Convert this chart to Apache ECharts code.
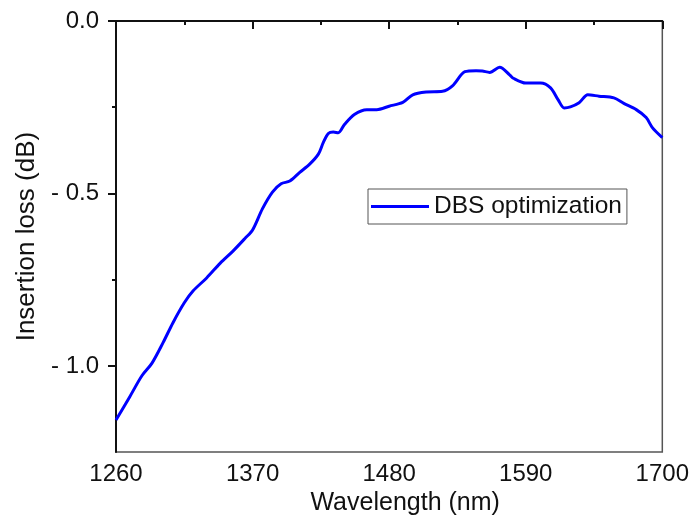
<!DOCTYPE html>
<html>
<head>
<meta charset="utf-8">
<script src="https://cdn.jsdelivr.net/npm/echarts@6/dist/echarts.min.js"></script>
<style>
  html, body { margin: 0; padding: 0; background: #fff; }
  #charts { width: 692px; height: 521px; }
</style>
</head>
<body>
<div id="charts"></div>
<script>
// values
var wavelength = [1260, 1271, 1281, 1289, 1298, 1306, 1315, 1322, 1333, 1344, 1354, 1364,
    1370, 1378, 1386, 1393, 1400, 1408, 1416, 1423, 1427, 1431, 1435, 1439, 1444, 1452,
    1462, 1470, 1480, 1491, 1499, 1510, 1523, 1531, 1541, 1550, 1555, 1561, 1569, 1577,
    1580, 1590, 1602, 1610, 1616, 1621, 1626, 1633, 1640, 1649, 1661, 1669, 1679, 1687,
    1692, 1700];
var loss = [-1.157, -1.090, -1.028, -0.992, -0.932, -0.874, -0.817, -0.783, -0.745, -0.702,
    -0.668, -0.630, -0.606, -0.544, -0.496, -0.472, -0.464, -0.439, -0.415, -0.386, -0.352,
    -0.326, -0.322, -0.324, -0.300, -0.271, -0.257, -0.257, -0.247, -0.236, -0.214, -0.206,
    -0.204, -0.188, -0.147, -0.144, -0.145, -0.149, -0.134, -0.156, -0.166, -0.180, -0.180,
    -0.194, -0.228, -0.252, -0.249, -0.237, -0.214, -0.218, -0.223, -0.239, -0.257, -0.280,
    -0.309, -0.338];
var xMajor = [1260, 1370, 1480, 1590, 1700];
var xMinor = [1315, 1425, 1535, 1645];
var yMajor = [0, -0.5, -1.0];
var yMinor = [-0.25, -0.75];

var font = 'Liberation Sans, Arial, sans-serif';
var pts = wavelength.map(function (w, i) { return [w, loss[i]]; });

var myChart = echarts.init(document.getElementById('charts'));
var option = {
    animation: false,
    legend: {
        left: 368,
        top: 189,
        padding: [5, 5, 5, 3],
        icon: 'rect',
        itemWidth: 58,
        itemHeight: 3,
        borderColor: '#555',
        borderWidth: 1,
        textStyle: { fontFamily: font, fontSize: 24.5, color: '#111' },
        data: ['DBS optimization']
    },
    grid: {
        left: 116,
        right: 29,
        top: 21,
        bottom: 65,
        show: true,
        borderColor: '#555',
        borderWidth: 1.5
    },
    xAxis: [{
        type: 'value',
        min: 1260,
        max: 1700,
        name: 'Wavelength (nm)',
        nameLocation: 'middle',
        nameGap: 38,
        nameTextStyle: { fontFamily: font, fontSize: 25, color: '#111', padding: [0, 0, 0, 32] },
        splitLine: { show: false },
        axisLine: { lineStyle: { color: '#111', width: 2 } },
        axisTick: { customValues: xMajor, length: 8, lineStyle: { color: '#111', width: 2 } },
        axisLabel: {
            customValues: xMajor,
            margin: 10,
            fontFamily: font,
            fontSize: 24,
            color: '#111',
            formatter: function (v) { return String(v); }
        }
    }, {
        type: 'value',
        position: 'bottom',
        min: 1260,
        max: 1700,
        splitLine: { show: false },
        axisLine: { show: false },
        axisTick: { customValues: xMinor, length: 4, lineStyle: { color: '#111', width: 2 } },
        axisLabel: { show: false }
    }],
    yAxis: [{
        type: 'value',
        min: -1.25,
        max: 0,
        name: 'Insertion loss (dB)',
        nameLocation: 'middle',
        nameGap: 75,
        nameTextStyle: { fontFamily: font, fontSize: 26, color: '#111' },
        splitLine: { show: false },
        axisLine: { lineStyle: { color: '#111', width: 2 } },
        axisTick: { customValues: yMajor, length: 8, lineStyle: { color: '#111', width: 2 } },
        axisLabel: {
            customValues: yMajor,
            margin: 17,
            fontFamily: font,
            fontSize: 24,
            color: '#111',
            formatter: function (v) {
                return v < 0 ? '- ' + Math.abs(v).toFixed(1) : v.toFixed(1);
            }
        }
    }, {
        type: 'value',
        position: 'left',
        min: -1.25,
        max: 0,
        splitLine: { show: false },
        axisLine: { show: false },
        axisTick: { customValues: yMinor, length: 4, lineStyle: { color: '#111', width: 2 } },
        axisLabel: { show: false }
    }],
    series: [
        {
            name: 'DBS optimization',
            type: 'line',
            xAxisIndex: 0,
            yAxisIndex: 0,
            symbol: 'none',
            smooth: 0.3,
            lineStyle: { color: '#0000ff', width: 3 },
            itemStyle: { color: '#0000ff' },
            data: pts
        }
    ]
};
myChart.setOption(option);
</script>
</body>
</html>
